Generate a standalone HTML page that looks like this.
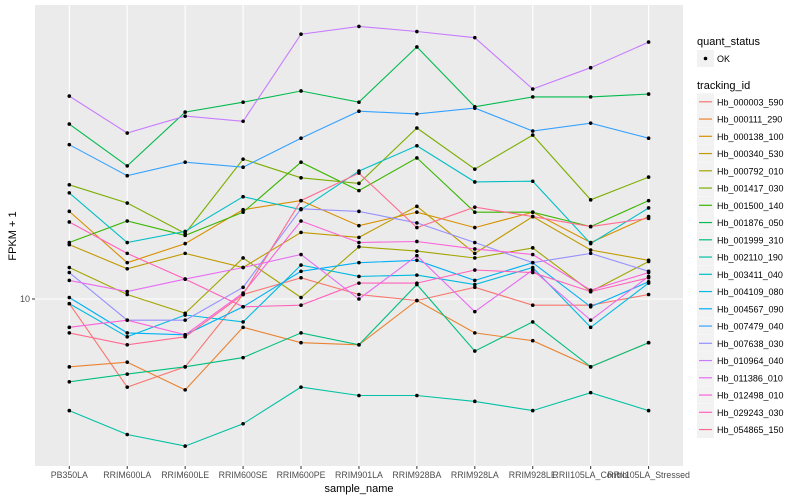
<!DOCTYPE html>
<html><head><meta charset="utf-8">
<style>
body{margin:0;background:#fff;}
svg{display:block;font-family:"Liberation Sans",sans-serif;}
</style></head>
<body>
<svg id="chart" width="800" height="500" viewBox="0 0 800 500">
  <rect x="0" y="0" width="800" height="500" fill="#fff"/>
  <rect x="35" y="5" width="648" height="461" fill="#ebebeb"/>
  <g id="grid"></g>
  <g id="series"></g>
  <g id="axes"></g>
  <text x="359" y="492" font-size="11" text-anchor="middle" fill="#000">sample_name</text>
  <text transform="translate(16,236) rotate(-90)" font-size="11" text-anchor="middle" fill="#000">FPKM + 1</text>
  <g id="legend">
    <text x="697" y="45" font-size="11" fill="#000">quant_status</text>
    <rect x="697" y="50" width="17" height="17" fill="#f2f2f2"/>
    <circle cx="705.5" cy="58.5" r="1.8" fill="#000"/>
    <text x="717" y="62" font-size="9" fill="#000">OK</text>
    <text x="697" y="89" font-size="11" fill="#000">tracking_id</text>
  </g>
</svg>
<script>
const categories = ["PB350LA","RRIM600LA","RRIM600LE","RRIM600SE","RRIM600PE","RRIM901LA","RRIM928BA","RRIM928LA","RRIM928LE","RRII105LA_Control","RRII105LA_Stressed"];
const seriesNames = ["Hb_000003_590","Hb_000111_290","Hb_000138_100","Hb_000340_530","Hb_000792_010","Hb_001417_030","Hb_001500_140","Hb_001876_050","Hb_001999_310","Hb_002110_190","Hb_003411_040","Hb_004109_080","Hb_004567_090","Hb_007479_040","Hb_007638_030","Hb_010964_040","Hb_011386_010","Hb_012498_010","Hb_029243_030","Hb_054865_150"];
const seriesColors = ["#F8766D","#EA8331","#D89000","#C09B00","#A3A500","#7CAE00","#39B600","#00BB4E","#00BF7D","#00C1A3","#00BFC4","#00BAE0","#00B0F6","#35A2FF","#9590FF","#C77CFF","#E76BF3","#FA62DB","#FF62BC","#FF6C91"];
const v000003 = [9.7,5.6,6.4,10.3,11.5,10.3,9.9,10.8,9.6,9.6,10.3];
const v000111 = [6.4,6.6,5.5,8.3,7.5,7.4,9.9,8.0,7.6,6.4,7.5];
const v000138 = [17.8,12.7,14.4,18.0,19.1,16.2,17.7,16.0,17.7,14.5,17.2];
const v000340 = [14.3,12.2,13.5,12.3,15.5,15.0,18.4,13.5,17.2,13.8,12.9];
const v000792 = [12.3,10.3,9.1,13.1,10.1,14.1,13.7,13.1,14.0,10.5,12.8];
const v001417 = [21.2,18.8,15.4,25.1,22.2,21.4,30.8,23.5,29.4,19.2,22.3];
const v001500 = [14.5,16.7,15.2,17.7,24.6,20.4,25.3,17.7,17.7,16.1,19.1];
const v001876 = [31.6,24.0,34.2,36.5,39.3,36.5,52.5,35.4,37.8,37.8,38.5];
const v001999 = [5.8,6.1,6.4,6.8,8.0,7.4,11.0,7.1,8.6,6.4,7.5];
const v002110 = [4.8,4.1,3.8,4.4,5.6,5.3,5.3,5.1,4.8,5.4,4.8];
const v003411 = [20.1,14.5,15.6,19.6,18.0,23.2,27.4,21.6,21.7,14.4,18.2];
const v004109 = [9.7,7.8,9.0,8.6,12.5,11.6,11.7,11.0,12.3,8.3,11.1];
const v004567 = [10.1,8.0,7.9,9.5,12.0,12.7,12.9,11.3,12.7,9.5,11.2];
const v007479 = [27.6,22.5,24.6,23.8,28.8,34.4,33.8,35.1,30.2,31.8,28.8];
const v007638 = [11.9,8.7,8.7,10.8,18.1,17.8,16.5,14.5,12.7,13.5,12.0];
const v010964 = [38.0,29.8,33.3,32.2,57.1,60.1,58.1,55.8,39.8,45.8,54.2];
const v011386 = [11.3,10.5,11.4,12.3,13.4,10.0,13.3,9.2,12.1,8.7,11.6];
const v012498 = [8.3,8.7,7.9,10.4,16.7,14.5,14.6,13.9,13.4,10.6,11.9];
const v029243 = [16.6,13.5,11.4,9.5,9.6,11.1,11.1,12.1,11.9,10.5,11.5];
const v054865 = [8.0,7.4,7.8,10.3,19.1,22.9,16.0,18.3,17.2,16.1,17.0];
const seriesValues = [v000003,v000111,v000138,v000340,v000792,v001417,v001500,v001876,v001999,v002110,v003411,v004109,v004567,v007479,v007638,v010964,v011386,v012498,v029243,v054865];
const yTicks = [10];

const NS = "http://www.w3.org/2000/svg";
const X0 = 69.3, XSTEP = 57.93;
function xScale(i){ return X0 + i*XSTEP; }
function yScale(v){ return 299 - 350*Math.log10(v/10); }
function mk(tag, attrs, parent){
  const e = document.createElementNS(NS, tag);
  for (const k in attrs) e.setAttribute(k, attrs[k]);
  parent.appendChild(e);
  return e;
}
const grid = document.getElementById('grid');
const axes = document.getElementById('axes');
const sg = document.getElementById('series');
const legend = document.getElementById('legend');

yTicks.forEach(t => {
  const y = yScale(t);
  const gl = mk('line', {x1:35, x2:683, y1:y, y2:y, stroke:'#fff', 'stroke-width':1.1}, grid);
  
  
  const tk = mk('line', {x1:32, x2:35, y1:y, y2:y, stroke:'#333', 'stroke-width':1}, axes);
  
  
  const tl = mk('text', {x:30, y:y+3, 'font-size':9, 'text-anchor':'end', fill:'#4d4d4d'}, axes);
  tl.textContent = String(t);
  
  
});
categories.forEach((c, i) => {
  const x = xScale(i);
  const gl = mk('line', {x1:x, x2:x, y1:5, y2:466, stroke:'#fff', 'stroke-width':1.1}, grid);
  
  
  const tk = mk('line', {x1:x, x2:x, y1:466, y2:469, stroke:'#333', 'stroke-width':1}, axes);
  
  
  const tl = mk('text', {x:x, y:478, 'font-size':8.8, 'text-anchor':'middle', fill:'#4d4d4d'}, axes);
  tl.textContent = c;
  
  
});
seriesValues.forEach((vals, s) => {
  const pts = vals.map((v, i) => xScale(i).toFixed(1) + ',' + yScale(v).toFixed(1)).join(' ');
  const pl = mk('polyline', {points:pts, fill:'none', stroke:seriesColors[s], 'stroke-width':1.1}, sg);
  
  
});
seriesValues.forEach((vals, s) => {
  vals.forEach((v, i) => {
    const c = mk('circle', {cx:xScale(i), cy:yScale(v), r:1.8, fill:'#000'}, sg);
    
    
  });
});
seriesNames.forEach((n, i) => {
  const top = 93.3 + i*17.25;
  const k = mk('rect', {x:697, y:top, width:17, height:17, fill:'#f2f2f2'}, legend);
  
  
  const l = mk('line', {x1:699, x2:712, y1:top+8.5, y2:top+8.5, stroke:seriesColors[i], 'stroke-width':1.2}, legend);
  
  
  const t = mk('text', {x:717, y:top+12, 'font-size':9, fill:'#000'}, legend);
  t.textContent = n;
  
  
});
</script>
</body></html>
